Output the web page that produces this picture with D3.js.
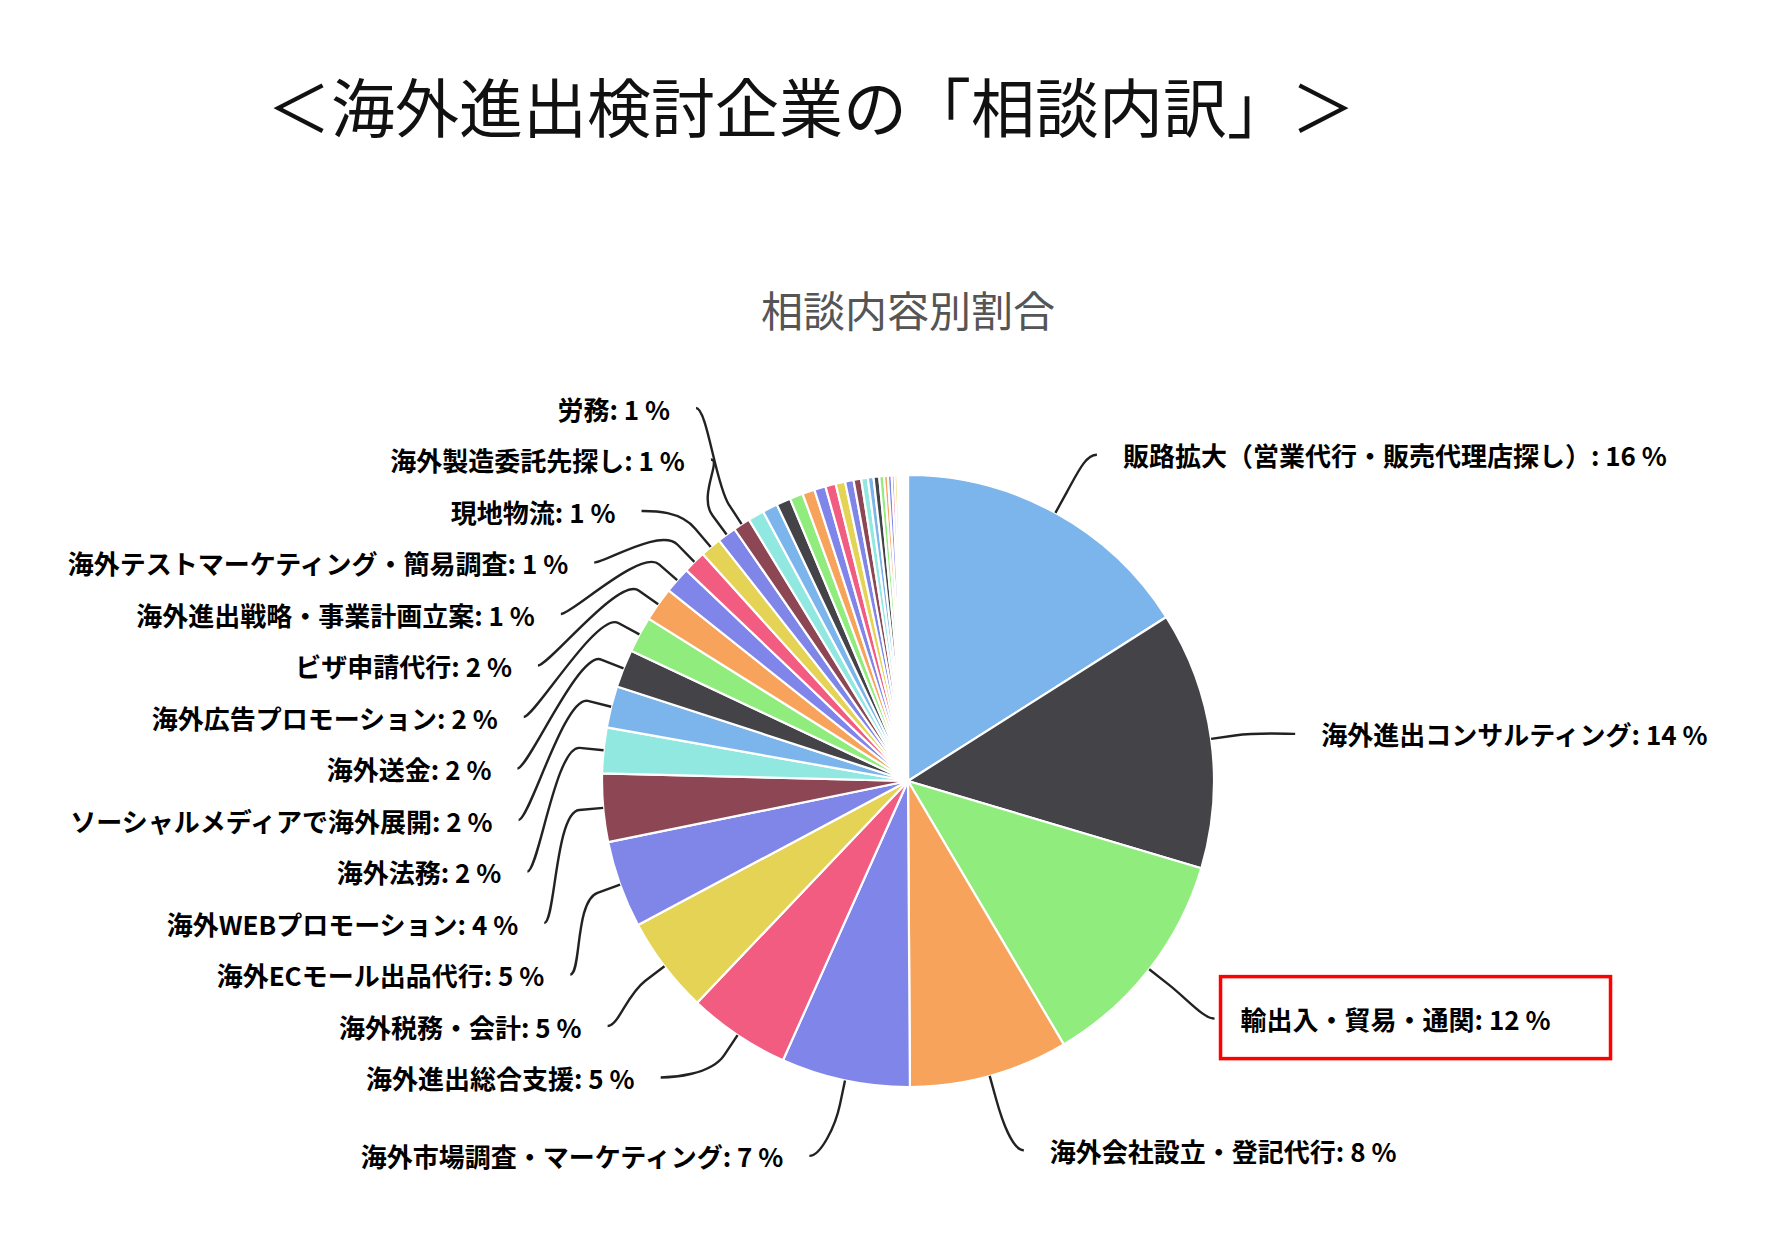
<!DOCTYPE html>
<html>
<head>
<meta charset="utf-8">
<script src="https://cdn.jsdelivr.net/npm/d3@7"></script>
<style>
  body { margin: 0; background: #fff; }
  text { font-family: "Noto Sans CJK JP", "Noto Sans", sans-serif; }
</style>
</head>
<body>
<div id="chart"></div>
<script>
var mainTitle = "＜海外進出検討企業の「相談内訳」＞";
var chartTitle = "相談内容別割合";

// labelled consultation items, in pie order (clockwise from 12 o'clock)
var categories = [
  "販路拡大（営業代行・販売代理店探し）",
  "海外進出コンサルティング",
  "輸出入・貿易・通関",
  "海外会社設立・登記代行",
  "海外市場調査・マーケティング",
  "海外進出総合支援",
  "海外税務・会計",
  "海外ECモール出品代行",
  "海外WEBプロモーション",
  "海外法務",
  "ソーシャルメディアで海外展開",
  "海外送金",
  "海外広告プロモーション",
  "ビザ申請代行",
  "海外進出戦略・事業計画立案",
  "海外テストマーケティング・簡易調査",
  "現地物流",
  "海外製造委託先探し",
  "労務"
];
var shares = [16, 13.6, 11.9, 8.4, 6.8, 5.4, 5.1, 4.6, 3.6, 2.4, 2.2, 2.0, 1.9, 1.8, 1.4, 1.2, 1.1, 1.0, 0.9];

// small items near the top whose labels are not shown
var smallShares = [0.85, 0.8, 0.75, 0.7, 0.65, 0.6, 0.55, 0.5, 0.45, 0.4,
                   0.35, 0.3, 0.3, 0.25, 0.2, 0.2, 0.15, 0.15, 0.1, 0.1, 0.1, 0.1, 0.1, 0.05];

var palette = ["#7cb5ec", "#434348", "#90ed7d", "#f7a35c", "#8085e9",
               "#f15c80", "#e4d354", "#8085e8", "#8d4653", "#91e8e1"];

var highlight = "輸出入・貿易・通関";

function init() {
  var w = 1766;
  var h = 1254;
  var cx = 908, cy = 781, r = 306;
  var labelRadius = 378;      // natural label y / slot range
  var slotHeight = 51.5;
  var labelRx = 428, labelRy = 390;
  var connectorOffset = 24;

  var svg = d3.select("#chart")
    .append("svg")
    .attr("width", w)
    .attr("height", h);

  svg.append("rect").attr("width", w).attr("height", h).attr("fill", "#fff");

  svg.append("text")
    .attr("x", 811)
    .attr("y", 132)
    .attr("text-anchor", "middle")
    .style("font-size", "64px")
    .style("fill", "#111")
    .text(mainTitle);

  svg.append("text")
    .attr("x", cx)
    .attr("y", 327)
    .attr("text-anchor", "middle")
    .style("font-size", "42px")
    .style("fill", "#555")
    .text(chartTitle);

  var values = shares.concat(smallShares);
  var total = d3.sum(values);

  var colour = d3.scaleOrdinal()
    .domain(d3.range(values.length))
    .range(palette);

  var pie = d3.pie().sort(null).value(function(d) { return d; });
  var arcs = pie(values);
  var arc = d3.arc().innerRadius(0).outerRadius(r);

  svg.append("g")
    .attr("transform", "translate(" + cx + "," + cy + ")")
    .selectAll("path")
    .data(arcs)
    .enter()
    .append("path")
    .attr("d", arc)
    .attr("fill", function(d, i) { return colour(i); })
    .attr("stroke", "#fff")
    .attr("stroke-width", 2.2)
    .attr("stroke-linejoin", "round");

  var points = arcs.map(function(a, i) {
    var mid = (a.startAngle + a.endAngle) / 2;
    return {
      value: a.value,
      name: categories[i] || "",
      left: mid > Math.PI,
      naturalY: cy - Math.cos(mid) * labelRadius,
      base: [cx + Math.sin(mid) * r, cy - Math.cos(mid) * r],
      brk: [cx + Math.sin(mid) * (r + connectorOffset), cy - Math.cos(mid) * (r + connectorOffset)]
    };
  });

  // slot based label layout, lowest values dropped when a side is full
  function placeHalf(pts, side) {
    var slots = [];
    for (var pos = cy - labelRadius; pos <= cy + labelRadius + 0.01; pos += slotHeight) {
      slots.push(pos);
    }
    if (pts.length > slots.length) {
      var ranked = pts.slice().sort(function(a, b) { return b.value - a.value; });
      ranked.forEach(function(p, j) { p.rank = j; });
      pts = pts.filter(function(p) { return p.rank < slots.length; });
    }
    var used = [];
    pts.forEach(function(p, j) {
      var closest = Infinity, si = 0;
      slots.forEach(function(s, k) {
        if (s !== null && Math.abs(s - p.naturalY) < closest) {
          closest = Math.abs(s - p.naturalY);
          si = k;
        }
      });
      if (si < j && slots[j] !== null) {
        si = j;
      } else if (slots.length < pts.length - j + si && slots[j] !== null) {
        si = slots.length - pts.length + j;
        while (slots[si] === null) si++;
      } else {
        while (slots[si] === null) si++;
      }
      used.push({ i: si, y: slots[si] });
      slots[si] = null;
    });
    used.sort(function(a, b) { return a.y - b.y; });

    pts.forEach(function(p, j) {
      var slot = used[j];
      var y = slot.y;
      if ((p.naturalY > y && slots[slot.i + 1] !== null) ||
          (p.naturalY < y && slots[slot.i - 1] !== null)) {
        y = p.naturalY;
      }
      var atEdge = Math.abs(y - (cy - labelRadius)) < 0.5 || Math.abs(y - (cy + labelRadius)) < 0.5;
      var yx = atEdge ? p.naturalY : y;
      var t = (yx - cy) / labelRy;
      var reach = labelRx * Math.sqrt(Math.max(0, 1 - t * t)) - 11;
      p.y = y + 5;
      p.side = side;
      p.textX = cx + side * reach;
      p.connX = cx + side * (reach - 26);
    });
    return pts;
  }

  var rightPts = points.filter(function(p) { return !p.left; });
  var leftPts = points.filter(function(p) { return p.left; }).reverse();

  var labelled = placeHalf(rightPts, 1)
    .concat(placeHalf(leftPts, -1))
    .filter(function(p) { return p.name; });

  svg.append("g")
    .selectAll("path")
    .data(labelled)
    .enter()
    .append("path")
    .attr("d", function(p) {
      var path = d3.path();
      path.moveTo(p.connX, p.y);
      path.bezierCurveTo(p.connX - p.side * 11, p.y,
                         2 * p.brk[0] - p.base[0], 2 * p.brk[1] - p.base[1],
                         p.brk[0], p.brk[1]);
      path.lineTo(p.base[0], p.base[1]);
      return path.toString();
    })
    .attr("fill", "none")
    .attr("stroke", "#222")
    .attr("stroke-width", 2.4);

  var texts = svg.append("g")
    .selectAll("text")
    .data(labelled)
    .enter()
    .append("text")
    .attr("x", function(p) { return p.textX; })
    .attr("y", function(p) { return p.y; })
    .attr("text-anchor", function(p) { return p.side > 0 ? "start" : "end"; })
    .attr("dominant-baseline", "central")
    .style("font-size", "26px")
    .style("font-weight", "bold")
    .style("fill", "#000")
    .text(function(p) { return p.name + ": " + Math.round(p.value / total * 100) + " %"; });

  // red box around the highlighted label
  texts.filter(function(p) { return p.name === highlight; })
    .each(function(p) {
      var bbox = this.getBBox();
      svg.append("rect")
        .attr("x", bbox.x - 20)
        .attr("y", p.y - 42)
        .attr("width", bbox.width + 80)
        .attr("height", 82)
        .attr("fill", "none")
        .attr("stroke", "#f00")
        .attr("stroke-width", 3.5);
    });
}

window.onload = init;
</script>
</body>
</html>
